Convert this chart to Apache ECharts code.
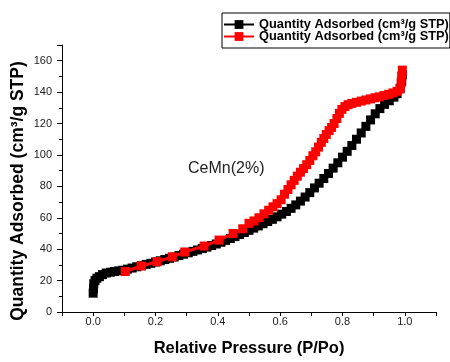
<!DOCTYPE html>
<html>
<head>
<meta charset="utf-8">
<style>
  html, body { margin: 0; padding: 0; background: #fff; }
  #chart { width: 450px; height: 362px; }
</style>
<script src="https://cdn.jsdelivr.net/npm/echarts@6/dist/echarts.min.js"></script>
</head>
<body>
<div id="chart"></div>
<script>
// N2 isotherm of CeMn(2%): adsorption branch (black) and desorption branch (red)
const seriesNames = ['Quantity Adsorbed (cm³/g STP)', 'Quantity Adsorbed (cm³/g STP)'];
const sampleLabel = 'CeMn(2%)';
const xAxisTitle = 'Relative Pressure (P/Po)';
const yAxisTitle = 'Quantity Adsorbed (cm³/g STP)';

// adsorption branch: relative pressure / quantity adsorbed
const adsP = [0.000, 0.001, 0.002, 0.006, 0.012, 0.020, 0.030, 0.042, 0.055, 0.068,
  0.082, 0.095, 0.110, 0.125, 0.140, 0.155, 0.170, 0.185, 0.200, 0.215,
  0.230, 0.245, 0.260, 0.275, 0.290, 0.305, 0.320, 0.335, 0.350, 0.365,
  0.380, 0.395, 0.410, 0.425, 0.440, 0.455, 0.470, 0.485, 0.500, 0.515,
  0.530, 0.545, 0.560, 0.575, 0.590, 0.605, 0.620, 0.635, 0.650, 0.665,
  0.680, 0.695, 0.710, 0.725, 0.740, 0.755, 0.770, 0.785, 0.800, 0.815,
  0.830, 0.845, 0.860, 0.875, 0.890, 0.905, 0.920, 0.935, 0.950, 0.965,
  0.975, 0.985, 0.990, 0.992];
const adsQ = [12.0, 15.0, 18.0, 20.0, 21.5, 22.5, 23.8, 24.8, 25.3, 25.8,
  26.2, 26.6, 27.3, 28.0, 28.8, 29.5, 30.3, 31.0, 31.8, 32.6,
  33.4, 34.2, 35.0, 35.9, 36.8, 37.7, 38.6, 39.5, 40.4, 41.3,
  42.3, 43.3, 44.4, 45.6, 46.8, 48.0, 49.3, 50.6, 52.0, 53.4,
  54.8, 56.2, 57.6, 59.0, 60.6, 62.3, 64.0, 66.0, 68.2, 70.6,
  73.2, 76.0, 79.0, 82.0, 85.0, 88.2, 91.6, 95.0, 98.6, 102.3,
  106.0, 110.0, 114.0, 118.2, 122.3, 126.2, 129.5, 132.2, 134.5, 136.8,
  139.0, 142.5, 147.0, 151.0];

// desorption branch, from saturation downwards
const desP = [0.992, 0.990, 0.988, 0.985, 0.975, 0.962, 0.948, 0.933, 0.918, 0.904,
  0.890, 0.875, 0.860, 0.845, 0.830, 0.818, 0.808, 0.798, 0.790, 0.782,
  0.773, 0.765, 0.757, 0.748, 0.740, 0.732, 0.723, 0.714, 0.705, 0.695,
  0.685, 0.675, 0.665, 0.655, 0.645, 0.635, 0.625, 0.614, 0.603, 0.590,
  0.577, 0.563, 0.548, 0.532, 0.516, 0.500, 0.480, 0.449, 0.404, 0.356,
  0.294, 0.254, 0.205, 0.154, 0.103];
const desQ = [154.0, 150.0, 146.0, 142.0, 140.5, 139.5, 138.6, 137.8, 137.0, 136.4,
  135.7, 135.0, 134.3, 133.5, 132.8, 132.0, 130.8, 129.0, 126.5, 123.2,
  120.0, 117.5, 115.5, 113.0, 110.5, 108.0, 105.0, 102.0, 99.5, 96.5,
  93.8, 91.3, 89.0, 86.5, 83.8, 81.0, 78.0, 75.0, 71.5, 69.0,
  67.0, 64.8, 62.5, 60.0, 58.0, 56.5, 53.0, 50.0, 45.8, 42.0,
  38.2, 35.1, 32.0, 29.3, 25.8];

const FONT = "'Liberation Sans', Arial, Helvetica, sans-serif";
const pair = (xs, ys) => xs.map((x, i) => [x, ys[i]]);

const chart = echarts.init(document.getElementById('chart'), null, { renderer: 'canvas' });

chart.setOption({
  animation: false,
  backgroundColor: '#ffffff',
  grid: { left: 62, right: 14, top: 45, bottom: 46 },
  legend: {
    orient: 'vertical',
    left: 222,
    top: 13,
    padding: [5, 1, 5, 1],
    itemGap: -1,
    itemWidth: 30,
    itemHeight: 11,
    borderColor: '#000',
    borderWidth: 1,
    textStyle: { fontFamily: FONT, fontSize: 12.8, fontWeight: 'bold', color: '#000', lineHeight: 12 },
    data: [{ name: 'ads' }, { name: 'des' }],
    formatter: (name) => name === 'ads' ? seriesNames[0] : seriesNames[1]
  },
  xAxis: {
    type: 'value',
    min: -0.1,
    max: 1.1,
    interval: 0.1,
    name: xAxisTitle,
    nameLocation: 'middle',
    nameGap: 28,
    nameTextStyle: { fontFamily: FONT, fontSize: 16.5, fontWeight: 'bold', color: '#000' },
    axisLine: { show: true, onZero: false, lineStyle: { color: '#000', width: 1 } },
    axisTick: { show: true, inside: false, length: 4, lineStyle: { color: '#000' } },
    axisLabel: {
      margin: 4,
      fontFamily: FONT, fontSize: 11, color: '#222',
      formatter: (v) => {
        const k = Math.round(v * 10);
        return (k >= 0 && k <= 10 && k % 2 === 0) ? (k / 10).toFixed(1) : '';
      }
    },
    splitLine: { show: false }
  },
  yAxis: [{
    type: 'value',
    min: 0,
    max: 170,
    interval: 20,
    position: 'left',
    axisLine: { show: true, onZero: false, lineStyle: { color: '#000', width: 1 } },
    axisTick: { show: true, inside: false, length: 5, lineStyle: { color: '#000' } },
    axisLabel: {
      margin: 10,
      fontFamily: FONT, fontSize: 11, color: '#222',
      formatter: (v) => (v % 20 === 0 && v <= 160) ? String(v) : ''
    },
    splitLine: { show: false }
  }, {
    // minor ticks every 10 units
    type: 'value',
    min: 0,
    max: 170,
    interval: 10,
    position: 'left',
    offset: 0,
    axisLine: { show: false, onZero: false },
    axisTick: { show: true, inside: false, length: 3, lineStyle: { color: '#000' } },
    axisLabel: { show: false },
    splitLine: { show: false }
  }],
  series: [{
    name: 'ads',
    type: 'line',
    yAxisIndex: 0,
    data: pair(adsP, adsQ),
    symbol: 'rect',
    symbolSize: 9,
    showAllSymbol: true,
    color: '#000',
    itemStyle: { color: '#000' },
    lineStyle: { color: '#000', width: 2 },
    z: 2
  }, {
    name: 'des',
    type: 'line',
    yAxisIndex: 0,
    data: pair(desP, desQ),
    symbol: 'rect',
    symbolSize: 9,
    showAllSymbol: true,
    color: '#ff0000',
    itemStyle: { color: '#ff0000' },
    lineStyle: { color: '#ff0000', width: 3 },
    z: 3
  }],
  graphic: [{
    type: 'text',
    left: 188,
    top: 161,
    style: { text: sampleLabel, fontFamily: FONT, fontSize: 16, fill: '#222' }
  }, {
    type: 'text',
    x: 18,
    y: 191,
    rotation: Math.PI / 2,
    style: {
      text: yAxisTitle, fontFamily: FONT, fontSize: 17.5, fontWeight: 'bold', fill: '#000',
      align: 'center', verticalAlign: 'middle'
    }
  }]
});
</script>
</body>
</html>
